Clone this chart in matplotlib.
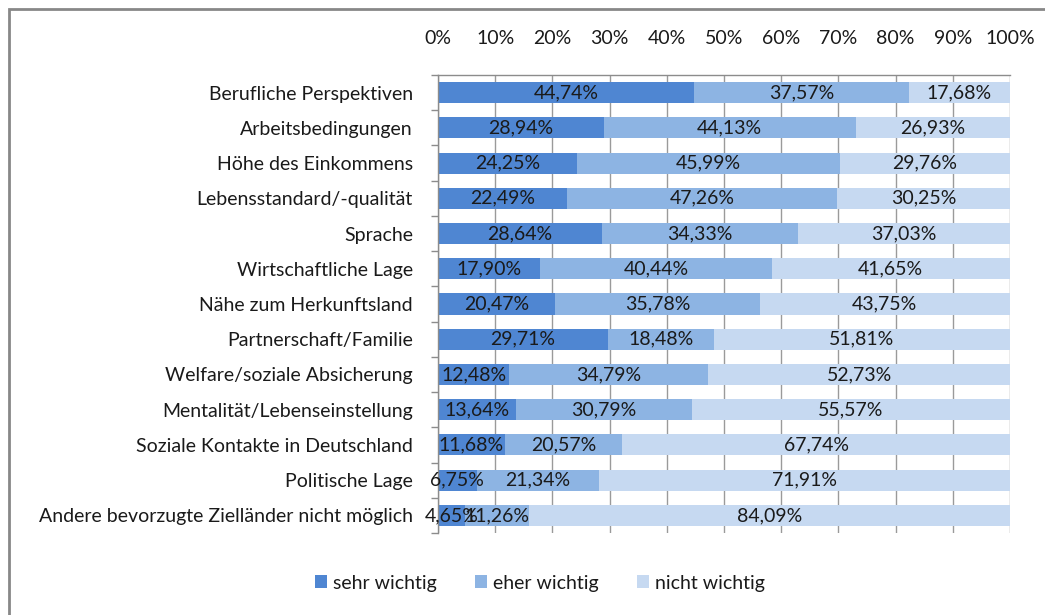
import matplotlib
matplotlib.use("Agg")
import matplotlib.pyplot as plt
from matplotlib.patches import Rectangle
import numpy as np

plt.rcParams['font.family'] = ['Lato', 'DejaVu Sans']

categories = [
    "Berufliche Perspektiven",
    "Arbeitsbedingungen",
    "Höhe des Einkommens",
    "Lebensstandard/-qualität",
    "Sprache",
    "Wirtschaftliche Lage",
    "Nähe zum Herkunftsland",
    "Partnerschaft/Familie",
    "Welfare/soziale Absicherung",
    "Mentalität/Lebenseinstellung",
    "Soziale Kontakte in Deutschland",
    "Politische Lage",
    "Andere bevorzugte Zielländer nicht möglich",
]
sehr_wichtig = [44.74, 28.94, 24.25, 22.49, 28.64, 17.90, 20.47, 29.71, 12.48, 13.64, 11.68, 6.75, 4.65]
eher_wichtig = [37.57, 44.13, 45.99, 47.26, 34.33, 40.44, 35.78, 18.48, 34.79, 30.79, 20.57, 21.34, 11.26]
nicht_wichtig = [17.68, 26.93, 29.76, 30.25, 37.03, 41.65, 43.75, 51.81, 52.73, 55.57, 67.74, 71.91, 84.09]
series_names = ["sehr wichtig", "eher wichtig", "nicht wichtig"]
colors = ["#4f86d2", "#8db4e3", "#c6d9f1"]
xticks = list(range(0, 101, 10))

fig = plt.figure(figsize=(10.45, 6.15), dpi=100)
ax = fig.add_axes([438/1045, 1-533/615, 572/1045, 458/615])

n = len(categories)
y = np.arange(n)
left = np.zeros(n)
for vals, name, col in zip([sehr_wichtig, eher_wichtig, nicht_wichtig], series_names, colors):
    vals = np.array(vals)
    ax.barh(y, vals, left=left, height=0.6, color=col, label=name, zorder=2)
    for yi, l, v in zip(y, left, vals):
        ax.text(l + v/2, yi, f"{v:.2f}%".replace(".", ","), ha="center", va="center",
                fontsize=14, color="#1a1a1a", zorder=3)
    left = left + vals

ax.set_xlim(0, 100)
ax.set_ylim(n - 0.5, -0.5)
ax.set_yticks(y)
ax.set_yticklabels(categories, fontsize=14, color="#1a1a1a")
ax.set_yticks(np.arange(-0.5, n, 1), minor=True)
ax.tick_params(axis="y", which="major", length=0, pad=18)
ax.tick_params(axis="y", which="minor", length=5, color="#8c8c8c", width=1)

ax.set_xticks(xticks)
ax.set_xticklabels([f"{t}%" for t in xticks], fontsize=14, color="#1a1a1a")
ax.xaxis.tick_top()
ax.tick_params(axis="x", length=0, pad=20)
ax.grid(axis="x", color="#9a9a9a", linewidth=1, zorder=0)
ax.set_axisbelow(True)

for s in ["right", "bottom"]:
    ax.spines[s].set_visible(False)
for s in ["top", "left"]:
    ax.spines[s].set_color("#8c8c8c")
    ax.spines[s].set_linewidth(1)

fig.legend(loc="center", bbox_to_anchor=(540/1045, 1-583/615), ncol=3, frameon=False,
           fontsize=14, handlelength=0.6, handleheight=0.6, handletextpad=0.3,
           columnspacing=2.0, labelcolor="#1a1a1a")

fig.patches.append(Rectangle((9/1045, -0.5), 2, 1.5 - 9/615, transform=fig.transFigure,
                             fill=False, edgecolor="#888888", linewidth=2))

fig.savefig("out.png", dpi=100)
